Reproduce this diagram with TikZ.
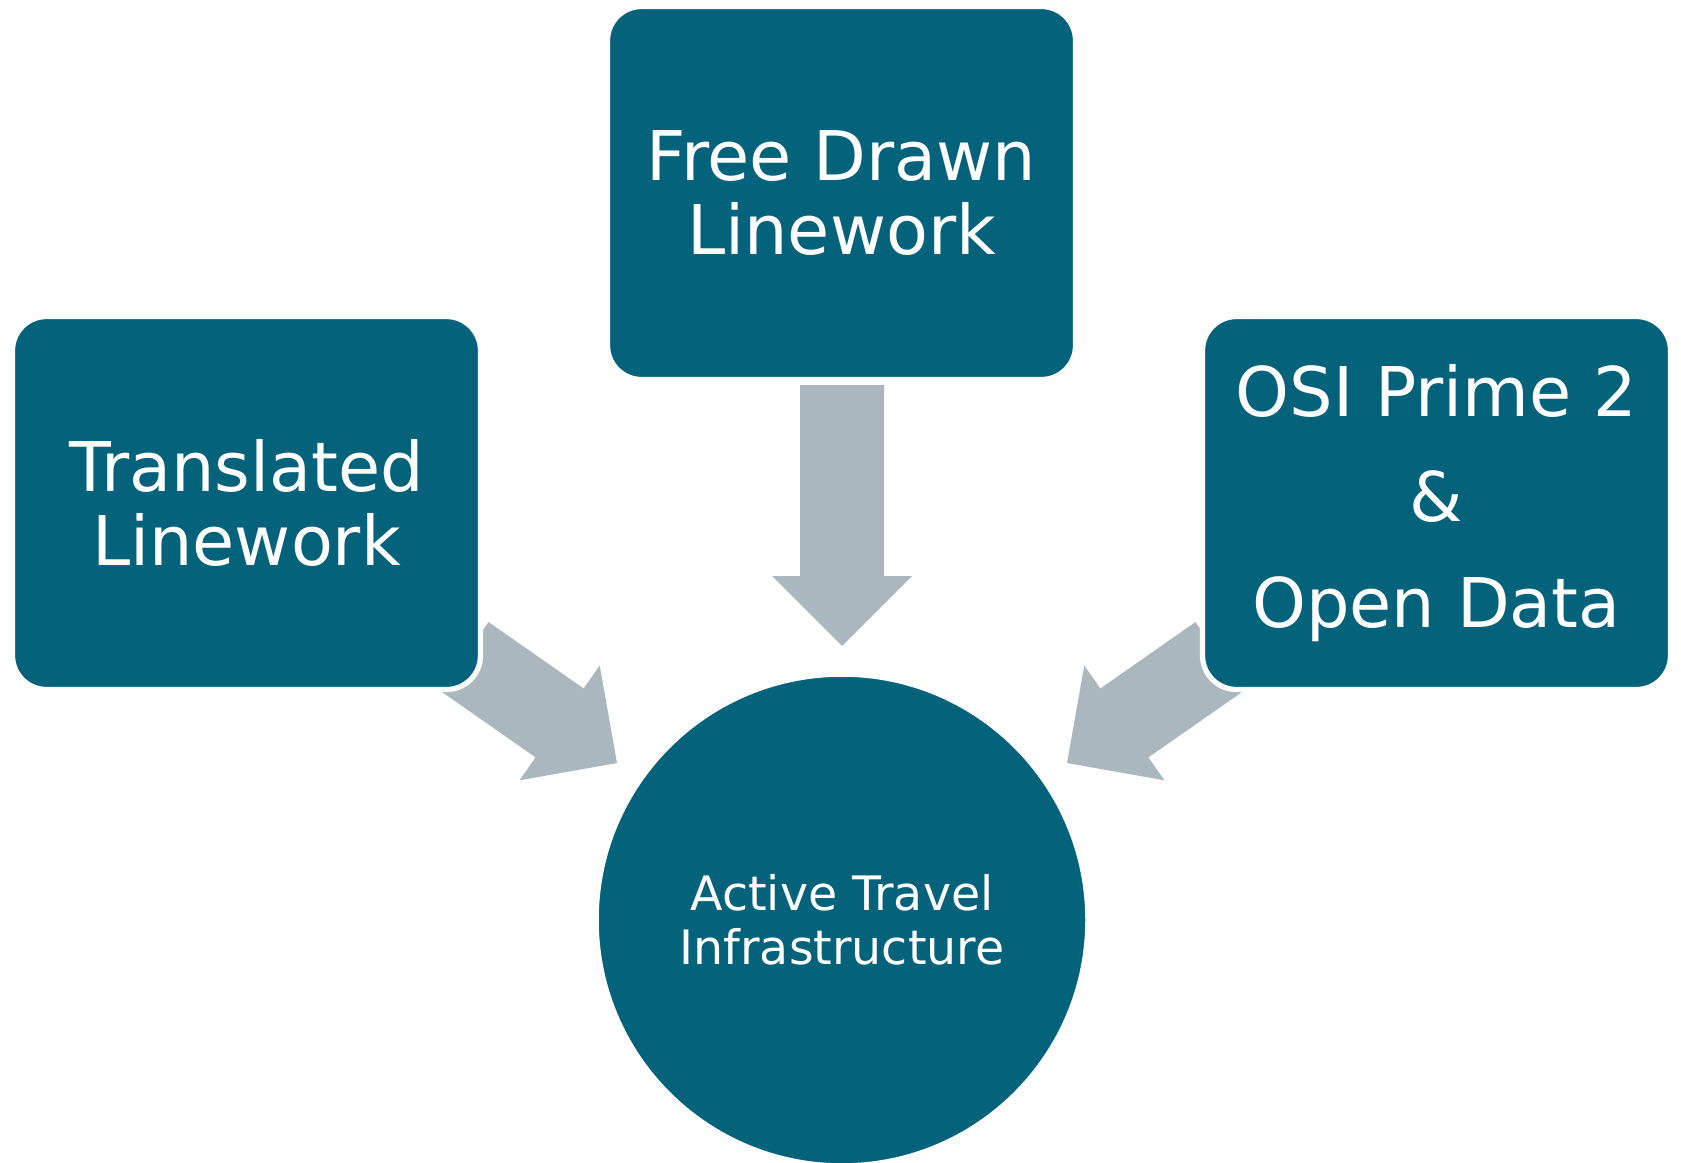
\documentclass[tikz,border=0pt]{standalone}
\usepackage{fontspec}
\setmainfont{DejaVu Sans}
\usetikzlibrary{calc,backgrounds}

\definecolor{boxteal}{RGB}{4,98,123}
\definecolor{arrowgrey}{RGB}{171,183,190}

% wide grey arrow from #1 (tail) to #2 (tip)
\newcommand{\blockarrow}[2]{%
  \coordinate (hb) at ($(#2)!0.7cm!(#1)$);
  \fill[arrowgrey] ($(#1)!0.42cm!90:(#2)$) -- ($(hb)!0.42cm!90:(#2)$)
    -- ($(hb)!0.7cm!90:(#2)$) -- (#2) -- ($(hb)!0.7cm!-90:(#2)$)
    -- ($(hb)!0.42cm!-90:(#2)$) -- ($(#1)!0.42cm!-90:(#2)$) -- cycle;
}

\begin{document}
\begin{tikzpicture}[
    source/.style = {fill=boxteal, draw=white, line width=1.5pt, rounded corners=0.34cm,
                     minimum width=4.68cm, minimum height=3.73cm, text=white, align=center,
                     font=\fontsize{19.5}{21.2}\selectfont},
    target/.style = {circle, fill=boxteal, draw=white, line width=1pt, minimum size=4.9cm,
                     text=white, align=center, font=\fontsize{13.5}{15.3}\selectfont}
]

        \useasboundingbox (0, 0) rectangle (16.81, 11.62);

        \node (free) [source] at (8.415, 9.69) {Free Drawn\\Linework};
        \node (trans) [source] at (2.465, 6.59) {Translated\\Linework};
        \node (osi) [source, font=\fontsize{19.5}{29.9}\selectfont] at (14.365, 6.59) {OSI Prime 2\\\&\\Open Data};

        \node (atinf) [target] at (8.42, 2.42) {Active Travel\\Infrastructure};

        \coordinate (ftail) at (8.42, 7.77);
        \coordinate (ftip) at (8.42, 5.16);
        \coordinate (ttail) at (4.645, 5.055);
        \coordinate (ttip) at (6.17, 3.99);
        \coordinate (otail) at (12.195, 5.055);
        \coordinate (otip) at (10.67, 3.99);

        \begin{scope}[on background layer]
            \fill[white] (0, 0) rectangle (16.81, 11.62);
            \blockarrow{ftail}{ftip}
            \blockarrow{ttail}{ttip}
            \blockarrow{otail}{otip}
        \end{scope}

    \end{tikzpicture}
\end{document}
